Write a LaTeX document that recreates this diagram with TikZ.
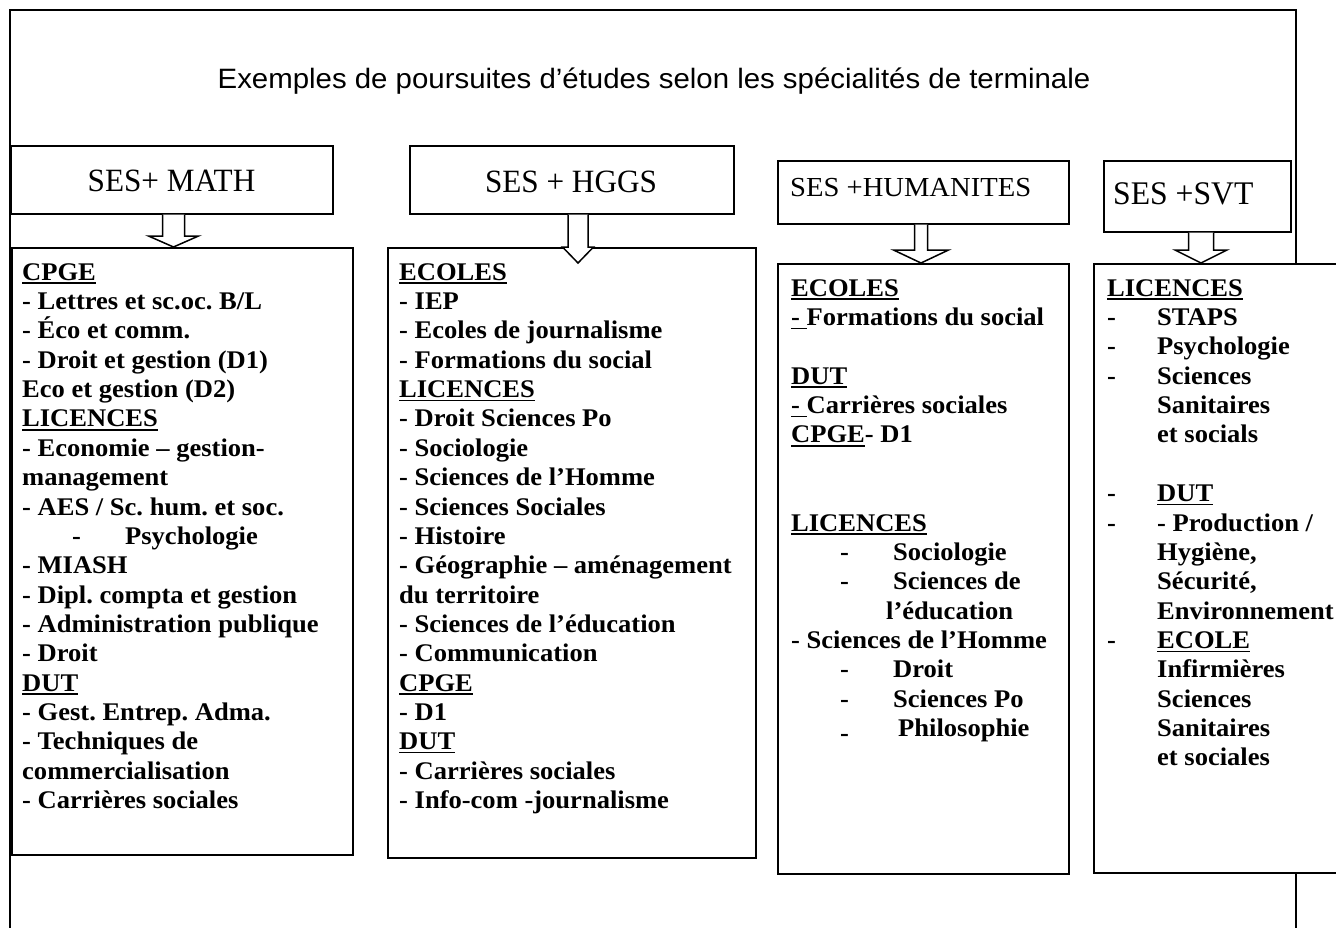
\documentclass[tikz,border=0pt]{standalone}
\usepackage{fontspec}
\setmainfont{Liberation Serif}
\newfontfamily\bodyfont[FakeStretch=1.045]{Liberation Serif}
\newfontfamily\hdfont[FakeStretch=0.96]{Liberation Serif}
\newfontfamily\hdwfont[FakeStretch=1.04]{Liberation Serif}
\newfontfamily\ttlfont[FakeStretch=1.05]{Liberation Sans}
\usetikzlibrary{calc}
\frenchspacing
\newsavebox\ulbox
\newcommand\myul[1]{\sbox\ulbox{#1}\rlap{\rule[-3.6pt]{\wd\ulbox}{1.4pt}}\usebox\ulbox}
% #1 header node, #2 tip coordinate, #3 shaft half width, #4 head half width, #5 head length
\newcommand\blockarrow[5]{%
  \draw[barrow] let \p1=(#1.south), \p2=(#2) in
    (\x2-#3pt,\y1) -- (\x2-#3pt,\y2+#5pt) -- (\x2-#4pt,\y2+#5pt) -- (\x2,\y2)
    -- (\x2+#4pt,\y2+#5pt) -- (\x2+#3pt,\y2+#5pt) -- (\x2+#3pt,\y1);}
\begin{document}
\begin{tikzpicture}[x=1pt,y=-1pt,
  frame/.style={line width=1.5pt, draw=black},
  hbox/.style={draw=black, line width=1.5pt, fill=white, inner sep=0pt, anchor=north west},
  cbox/.style={draw=black, line width=1.5pt, fill=white, inner sep=0pt, anchor=north west},
  barrow/.style={draw=black, line width=1.5pt, fill=white, line join=miter},
  body/.style={anchor=north west, inner sep=0pt, align=left,
    font=\bodyfont\bfseries\frenchspacing\fontsize{25.4}{29.35}\selectfont},
  htext/.style={inner sep=0pt, font=\hdfont\fontsize{32.5}{36}\selectfont},
  ttl/.style={inner sep=0pt, anchor=base, font=\ttlfont\fontsize{28}{31}\selectfont}]
\useasboundingbox (0,0) rectangle (1336,927);
\clip (0,0) rectangle (1336,927);
\fill[white] (0,0) rectangle (1336,927);

% outer frame
\draw[frame] (10,940) -- (10,10);
\draw[frame] (1296,10) -- (1296,940);
\draw[line width=2.5pt] (9.25,10) -- (1296.75,10);

% title
\node[ttl] (title) at (654,88.5) {Exemples de poursuites d’études selon les spécialités de terminale};

% header boxes
\node[hbox, minimum width=322pt, minimum height=68pt] (h1) at (10,145) {};
\node[hbox, minimum width=324pt, minimum height=68pt] (h2) at (409,145) {};
\node[hbox, minimum width=291pt, minimum height=63pt] (h3) at (777,160) {};
\node[hbox, minimum width=187pt, minimum height=71pt] (h4) at (1103,160) {};

\node[htext, anchor=base] (l1) at (171.5,191.5) {SES+ MATH};
\node[htext, anchor=base] (l2) at (571,192) {SES + HGGS};
\node[htext, anchor=base west, font=\hdwfont\fontsize{27.5}{30}\selectfont] (l3) at (790,196) {SES +HUMANITES};
\node[htext, anchor=base west, font=\hdfont\fontsize{33}{36}\selectfont] (l4) at (1113,204.5) {SES +SVT};

% content boxes
\node[cbox, minimum width=341pt, minimum height=607pt] (c1) at (11,247) {};
\node[cbox, minimum width=368pt, minimum height=610pt] (c2) at (387,247) {};
\node[cbox, minimum width=291pt, minimum height=610pt] (c3) at (777,263) {};
\node[cbox, minimum width=260pt, minimum height=609pt] (c4) at (1093,263) {};

% arrow tips
\coordinate (t1) at (173.5,247);
\coordinate (t2) at (578,263);
\coordinate (t3) at (921,263);
\coordinate (t4) at (1201,263);
\blockarrow{h1}{t1}{11}{25}{11}
\blockarrow{h2}{t2}{10}{15.5}{16}
\blockarrow{h3}{t3}{6.5}{27.5}{13}
\blockarrow{h4}{t4}{12.5}{26}{13}

% texts
\node[body] (b1) at (22,259.45) {\strut\myul{CPGE}\\
- Lettres et sc.oc. B/L\\
- Éco et comm.\\
- Droit et gestion (D1)\\
Eco et gestion (D2)\\
\myul{LICENCES}\\
- Economie – gestion-\\
management\\
- AES / Sc. hum. et soc.\\
\hspace*{50pt}\makebox[53pt][l]{-}Psychologie\\
- MIASH\\
- Dipl. compta et gestion\\
- Administration publique\\
- Droit\\
\myul{DUT}\\
- Gest. Entrep. Adma.\\
- Techniques de\\
commercialisation\\
- Carrières sociales};

\node[body] (b2) at (399,259.45) {\strut\myul{ECOLES}\\
- IEP\\
- Ecoles de journalisme\\
- Formations du social\\
\myul{LICENCES}\\
- Droit Sciences Po\\
- Sociologie\\
- Sciences de l’Homme\\
- Sciences Sociales\\
- Histoire\\
- Géographie – aménagement\\
du territoire\\
- Sciences de l’éducation\\
- Communication\\
\myul{CPGE}\\
- D1\\
\myul{DUT}\\
- Carrières sociales\\
- Info-com -journalisme};

\node[body] (b3) at (791,275.45) {\strut\myul{ECOLES}\\
\myul{- }Formations du social\\
\strut\\
\myul{DUT}\\
\myul{- }Carrières sociales\\
\myul{CPGE}- D1\\
\strut\\
\strut\\
\myul{LICENCES}\\
\hspace*{49pt}\makebox[53pt][l]{-}Sociologie\\
\hspace*{49pt}\makebox[53pt][l]{-}Sciences de\\
\hspace*{95pt}l’éducation\\
- Sciences de l’Homme\\
\hspace*{49pt}\makebox[53pt][l]{-}Droit\\
\hspace*{49pt}\makebox[53pt][l]{-}Sciences Po\\
\hspace*{49pt}\makebox[58pt][l]{\raisebox{-5pt}{-}}Philosophie};

\node[body] (b4) at (1107,275.45) {\strut\myul{LICENCES}\\
\makebox[50pt][l]{-}STAPS\\
\makebox[50pt][l]{-}Psychologie\\
\makebox[50pt][l]{-}Sciences\\
\hspace*{50pt}Sanitaires\\
\hspace*{50pt}et socials\\
\strut\\
\makebox[50pt][l]{-}\myul{DUT}\\
\makebox[50pt][l]{-}- Production /\\
\hspace*{50pt}Hygiène,\\
\hspace*{50pt}Sécurité,\\
\hspace*{50pt}Environnement\\
\makebox[50pt][l]{-}\myul{ECOLE}\\
\hspace*{50pt}Infirmières\\
\hspace*{50pt}Sciences\\
\hspace*{50pt}Sanitaires\\
\hspace*{50pt}et sociales};
\end{tikzpicture}
\end{document}
